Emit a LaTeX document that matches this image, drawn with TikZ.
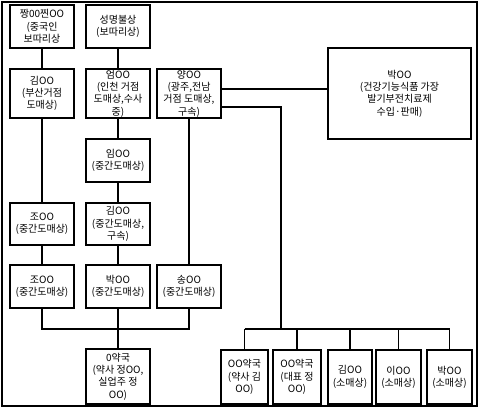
\documentclass[tikz,border=0pt]{standalone}
\usepackage{fontspec}
\setmainfont{Noto Sans CJK KR}
\begin{document}
\begin{tikzpicture}[x=1pt,y=-1pt,
  box/.style={draw=black,line width=1.2pt,inner sep=0pt,align=center,
    font=\fontsize{10}{12.3}\selectfont,minimum width=64pt},
  conn/.style={draw=black,line width=1.2pt}]
\useasboundingbox (0,0) rectangle (480,411);
\draw[line width=1.2pt] (2,2) rectangle (477,406);
% top row
\node[box,minimum height=43pt] (A) at (42,26.5) {짱00찐OO\\(중국인\\보따리상};
\node[box,minimum height=43pt] (B) at (118,26.5) {성명불상\\(보따리상)};
% second row
\node[box,minimum height=49pt] (C) at (42,93.5) {김OO\\(부산거점\\도매상)};
\node[box,minimum height=49pt] (D) at (118,93.5) {엄OO\\(인천 거점\\도매상,수사\\중)};
\node[box,minimum height=49pt] (E) at (189,93.5) {양OO\\(광주,전남\\거점 도매상,\\구속)};
\node[box,minimum width=143pt,minimum height=91pt] (F) at (399.5,93.5) {박OO\\(건강기능식품 가장\\발기부전치료제\\수입·판매)};
% middle
\node[box,minimum height=43pt] (Lim) at (118,160.5) {임OO\\(중간도매상)};
\node[box,minimum height=42pt] (Jo1) at (42,224) {조OO\\(중간도매상)};
\node[box,minimum height=42pt] (Kim2) at (118,224) {김OO\\(중간도매상,\\구속)};
\node[box,minimum height=43pt] (Jo2) at (42,286.5) {조OO\\(중간도매상)};
\node[box,minimum height=43pt] (Park2) at (118,286.5) {박OO\\(중간도매상)};
\node[box,minimum height=43pt] (Song) at (189,286.5) {송OO\\(중간도매상)};
% bottom
\node[box,minimum height=55pt] (Ph0) at (118,376.5) {0약국\\(약사 정OO,\\실업주 정\\OO)};
\node[box,minimum width=47pt,minimum height=54pt] (P1) at (244.5,377) {OO약국\\(약사 김\\OO)};
\node[box,minimum width=48pt,minimum height=54pt] (P2) at (297,377) {OO약국\\(대표 정\\OO)};
\node[box,minimum width=44pt,minimum height=54pt] (P3) at (350,377) {김OO\\(소매상)};
\node[box,minimum width=45pt,minimum height=54pt] (P4) at (398.5,377) {이OO\\(소매상)};
\node[box,minimum width=45pt,minimum height=54pt] (P5) at (449.5,377) {박OO\\(소매상)};
\coordinate (bus1) at (118,329);
\coordinate (bus2) at (281,329);
% connectors
\draw[conn] (A) -- (C);
\draw[conn] (B) -- (D);
\draw[conn] (C) -- (Jo1);
\draw[conn] (Jo1) -- (Jo2);
\draw[conn] (D) -- (Lim);
\draw[conn] (Lim) -- (Kim2);
\draw[conn] (Kim2) -- (Park2);
\draw[conn] (E) -- (Song);
\draw[conn] ([yshift=4.5pt]E.east) -- ([yshift=4.5pt]F.west);
\draw[conn] ([yshift=-13.5pt]E.east) -| (bus2);
\draw[conn] (Jo2.south) -- (Jo2.south |- bus1) -- (Song.south |- bus1) -- (Song.south);
\draw[conn] (Park2) -- (Ph0);
\draw[conn] (P1.north |- bus2) -- (P5.north |- bus2);
\foreach \p in {P1,P2,P3,P4,P5} {\draw[conn] (\p.north) -- (\p.north |- bus2);}
\end{tikzpicture}
\end{document}
